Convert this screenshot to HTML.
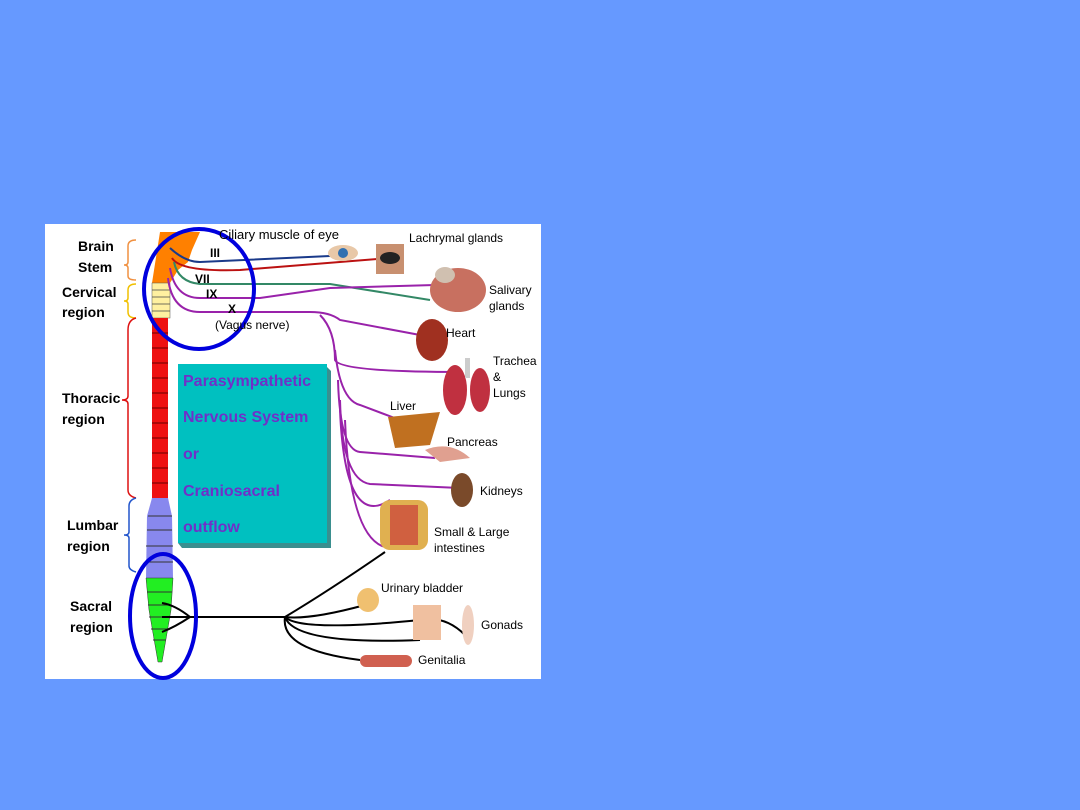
<!DOCTYPE html>
<html><head><style>
html,body{margin:0;padding:0;}
body{width:1080px;height:810px;background:#6699FF;position:relative;overflow:hidden;font-family:"Liberation Sans",sans-serif;}
svg{position:absolute;left:0;top:0;}
</style></head><body>
<svg width="1080" height="810" viewBox="0 0 1080 810">
<rect x="45" y="224" width="496" height="455" fill="#fff"/>
<!-- teal box -->
<polygon points="327,367 331,371 331,548 182,548 178,543 327,543" fill="#3a8f8f"/>
<rect x="178" y="364" width="149" height="179" fill="#00C0C0"/>
<g font-family="Liberation Sans,sans-serif" font-size="16" font-weight="bold" fill="#7030C8">
<text x="183" y="386">Parasympathetic</text>
<text x="183" y="422">Nervous System</text>
<text x="183" y="459">or</text>
<text x="183" y="496">Craniosacral</text>
<text x="183" y="532">outflow</text>
</g>
<!-- spine -->
<path d="M160,232 L200,232 L192,250 L188,262 L178,270 L170,283 L152,283 Z" fill="#FF8000"/>
<rect x="152" y="283" width="18" height="35" fill="#FFF0A0" stroke="#555" stroke-width="0.5"/>
<g stroke="#444" stroke-width="0.8">
<line x1="152" y1="290" x2="170" y2="290"/><line x1="152" y1="297" x2="170" y2="297"/><line x1="152" y1="304" x2="170" y2="304"/><line x1="152" y1="311" x2="170" y2="311"/></g>
<rect x="152" y="318" width="16" height="180" fill="#EE1111"/>
<g stroke="#600" stroke-width="1">
<line x1="152" y1="333" x2="168" y2="333"/><line x1="152" y1="348" x2="168" y2="348"/><line x1="152" y1="363" x2="168" y2="363"/><line x1="152" y1="378" x2="168" y2="378"/><line x1="152" y1="393" x2="168" y2="393"/><line x1="152" y1="408" x2="168" y2="408"/><line x1="152" y1="423" x2="168" y2="423"/><line x1="152" y1="438" x2="168" y2="438"/><line x1="152" y1="453" x2="168" y2="453"/><line x1="152" y1="468" x2="168" y2="468"/><line x1="152" y1="483" x2="168" y2="483"/></g>
<path d="M152,498 L168,498 L172,516 L173,578 L146,578 L147,516 Z" fill="#8888EE"/>
<g stroke="#333" stroke-width="1">
<line x1="148" y1="516" x2="172" y2="516"/><line x1="147" y1="530" x2="172" y2="530"/><line x1="146" y1="546" x2="173" y2="546"/><line x1="146" y1="562" x2="173" y2="562"/></g>
<path d="M146,578 L173,578 L171,610 L162,662 L158,662 L149,610 Z" fill="#22EE22" stroke="#333" stroke-width="0.5"/>
<g stroke="#333" stroke-width="1">
<line x1="147" y1="592" x2="172" y2="592"/><line x1="148" y1="605" x2="171" y2="605"/><line x1="149" y1="617" x2="170" y2="617"/><line x1="151" y1="629" x2="168" y2="629"/><line x1="153" y1="640" x2="166" y2="640"/></g>
<!-- braces -->
<g fill="none" stroke-width="1.5">
<path d="M136,240 Q128,240 128,246 L128,262 Q128,265 124,265 Q128,265 128,268 L128,276 Q128,280 136,280" stroke="#F09040"/>
<path d="M136,284 Q128,284 128,290 L128,298 Q128,301 124,301 Q128,301 128,304 L128,312 Q128,318 136,318" stroke="#F0C000"/>
<path d="M136,318 Q128,320 128,330 L128,396 Q128,400 122,400 Q128,400 128,404 L128,490 Q128,496 136,498" stroke="#DD1111"/>
<path d="M136,498 Q129,500 129,506 L129,532 Q129,535 124,535 Q129,535 129,538 L129,566 Q129,570 136,572" stroke="#2255CC"/>
</g>
<g font-family="Liberation Sans,sans-serif" font-size="14" font-weight="bold" fill="#000">
<text x="78" y="251">Brain</text><text x="78" y="272">Stem</text>
<text x="62" y="297">Cervical</text><text x="62" y="317">region</text>
<text x="62" y="403">Thoracic</text><text x="62" y="424">region</text>
<text x="67" y="530">Lumbar</text><text x="67" y="551">region</text>
<text x="70" y="611">Sacral</text><text x="70" y="632">region</text>
</g>
<!-- nerves -->
<g fill="none" stroke-width="2">
<path d="M170,248 Q185,262 200,262 L330,256" stroke="#1a3a8a"/>
<path d="M172,258 Q180,272 240,270 L390,258" stroke="#BB1111"/>
<path d="M174,262 Q178,282 200,284 L330,284 L430,300" stroke="#338866"/>
<path d="M170,268 Q175,298 200,298 L260,298 L330,288 L435,285" stroke="#9922AA"/>
<path d="M168,278 Q172,312 200,312 L310,312 Q330,312 340,320 L420,335" stroke="#9922AA"/>
<path d="M320,315 Q335,330 335,360 Q340,372 460,372" stroke="#9922AA"/>
<path d="M335,350 Q340,400 360,405 L400,420" stroke="#9922AA"/>
<path d="M338,380 Q340,450 360,452 L435,458" stroke="#9922AA"/>
<path d="M340,400 Q342,480 370,484 L460,488" stroke="#9922AA"/>
<path d="M340,410 Q345,530 390,500" stroke="#9922AA"/>
<path d="M345,420 Q350,545 390,548" stroke="#9922AA"/>
</g>
<g fill="none" stroke="#000" stroke-width="2">
<path d="M162,603 Q175,605 190,617 Q175,627 162,632"/>
<line x1="162" y1="617" x2="285" y2="617"/>
<path d="M285,617 Q330,590 385,552"/>
<path d="M285,617 Q310,620 365,605"/>
<path d="M285,617 Q300,632 420,620 Q445,615 465,635"/>
<path d="M285,617 Q295,645 420,640"/>
<path d="M285,617 Q280,650 360,660"/>
</g>
<!-- ellipses -->
<ellipse cx="199" cy="289" rx="55" ry="60" fill="none" stroke="#0000DD" stroke-width="4"/>
<ellipse cx="163" cy="616" rx="33" ry="62" fill="none" stroke="#0000DD" stroke-width="4"/>
<!-- organs -->
<ellipse cx="343" cy="253" rx="15" ry="8" fill="#e8c8a8"/><circle cx="343" cy="253" r="5" fill="#3070b0"/>
<rect x="376" y="244" width="28" height="30" fill="#c89070"/><ellipse cx="390" cy="258" rx="10" ry="6" fill="#222"/>
<ellipse cx="458" cy="290" rx="28" ry="22" fill="#c87060"/><ellipse cx="445" cy="275" rx="10" ry="8" fill="#d0c0b0"/>
<ellipse cx="432" cy="340" rx="16" ry="21" fill="#a03020"/>
<ellipse cx="455" cy="390" rx="12" ry="25" fill="#c03040"/><ellipse cx="480" cy="390" rx="10" ry="22" fill="#c03040"/><rect x="465" y="358" width="5" height="20" fill="#ccc"/>
<path d="M388,417 L440,412 L430,445 L395,448 Z" fill="#c07020"/>
<path d="M425,450 Q450,440 470,458 L440,462 Z" fill="#e0a090"/>
<ellipse cx="462" cy="490" rx="11" ry="17" fill="#7a4a2a"/>
<rect x="380" y="500" width="48" height="50" rx="10" fill="#e0b050"/><rect x="390" y="505" width="28" height="40" fill="#d06040"/>
<ellipse cx="368" cy="600" rx="11" ry="12" fill="#f0c070"/>
<rect x="413" y="605" width="28" height="35" fill="#f0c0a0"/><ellipse cx="468" cy="625" rx="6" ry="20" fill="#f0d0c0"/>
<rect x="360" y="655" width="52" height="12" rx="6" fill="#d06050"/>
<g font-family="Liberation Sans,sans-serif" font-size="12" fill="#000">
<text x="219" y="239" font-size="13">Ciliary muscle of eye</text>
<text x="409" y="242">Lachrymal glands</text>
<text x="489" y="294">Salivary</text><text x="489" y="310">glands</text>
<text x="446" y="337">Heart</text>
<text x="493" y="365">Trachea</text><text x="493" y="381">&amp;</text><text x="493" y="397">Lungs</text>
<text x="390" y="410">Liver</text>
<text x="447" y="446">Pancreas</text>
<text x="480" y="495">Kidneys</text>
<text x="434" y="536">Small &amp; Large</text><text x="434" y="552">intestines</text>
<text x="381" y="592">Urinary bladder</text>
<text x="481" y="629">Gonads</text>
<text x="418" y="664">Genitalia</text>
<text x="215" y="329">(Vagus nerve)</text>
</g>
<g font-family="Liberation Sans,sans-serif" font-size="12" font-weight="bold" fill="#000">
<text x="210" y="257">III</text><text x="195" y="283">VII</text><text x="206" y="298">IX</text><text x="228" y="313">X</text>
</g>
</svg>
</body></html>
